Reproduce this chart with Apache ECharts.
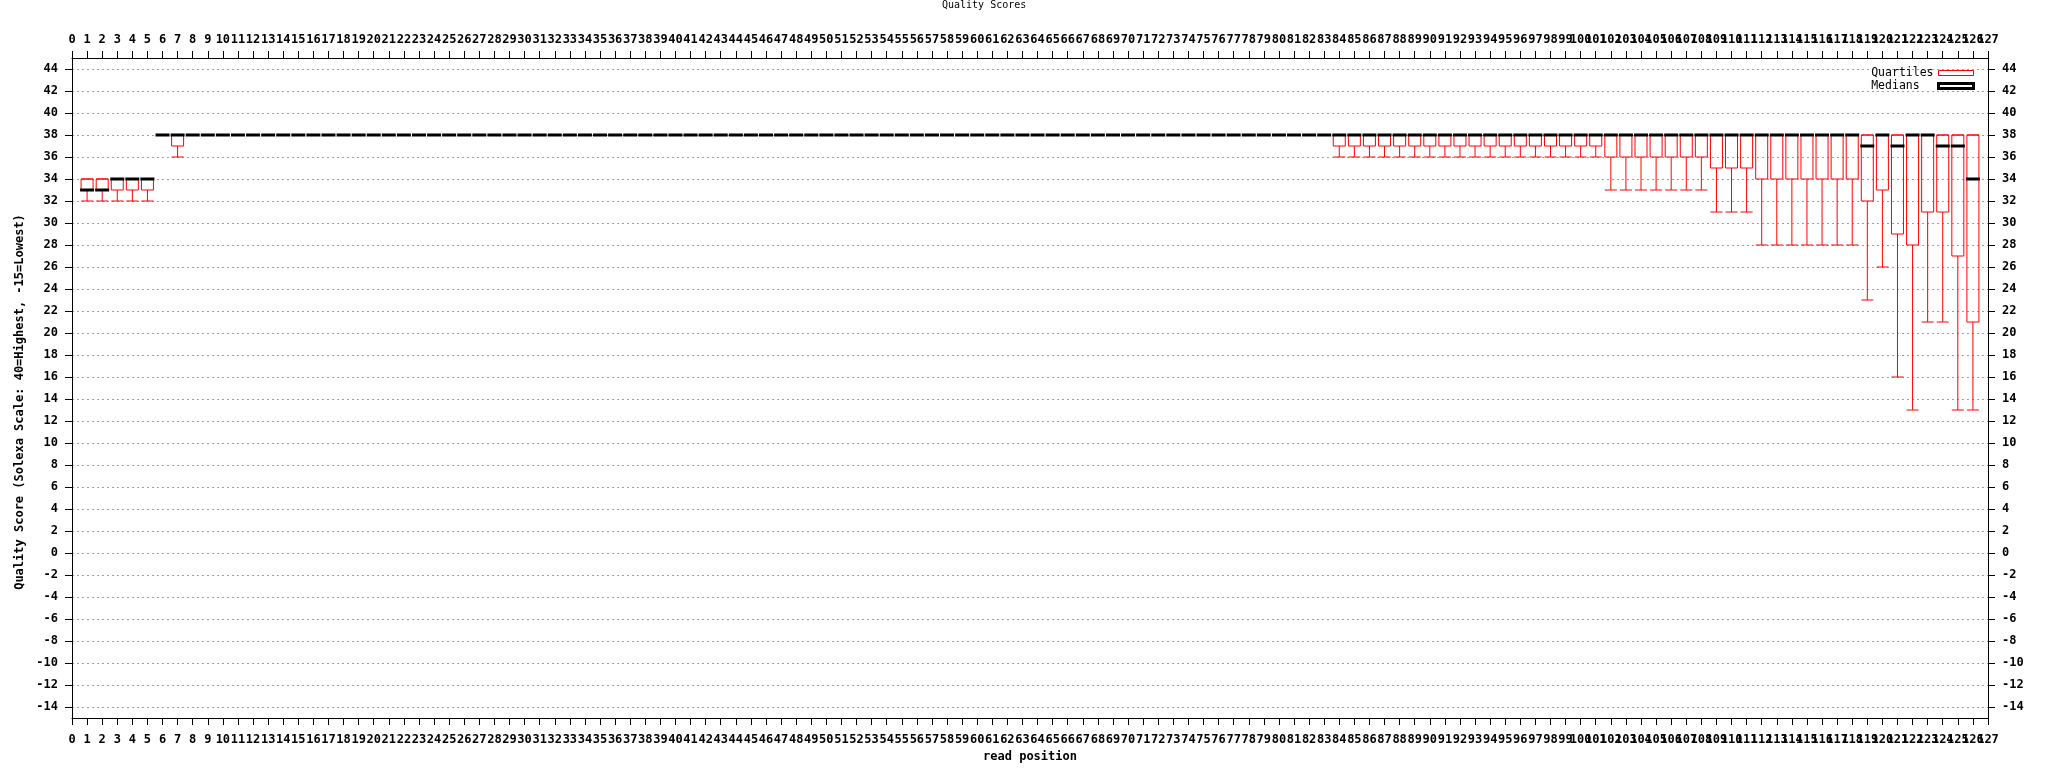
<!DOCTYPE html>
<html>
<head>
<meta charset="utf-8">
<script src="https://cdn.jsdelivr.net/npm/echarts@6/dist/echarts.min.js"></script>
<style>
  html, body { margin: 0; padding: 0; background: #fff; }
  #chart { width: 2048px; height: 768px; }
</style>
</head>
<body>
<div id="chart"></div>
<script>
// ---- data ----
const xTickLabels = [
  '0', '1', '2', '3', '4', '5', '6', '7', '8', '9',
  '10', '11', '12', '13', '14', '15', '16', '17', '18', '19',
  '20', '21', '22', '23', '24', '25', '26', '27', '28', '29',
  '30', '31', '32', '33', '34', '35', '36', '37', '38', '39',
  '40', '41', '42', '43', '44', '45', '46', '47', '48', '49',
  '50', '51', '52', '53', '54', '55', '56', '57', '58', '59',
  '60', '61', '62', '63', '64', '65', '66', '67', '68', '69',
  '70', '71', '72', '73', '74', '75', '76', '77', '78', '79',
  '80', '81', '82', '83', '84', '85', '86', '87', '88', '89',
  '90', '91', '92', '93', '94', '95', '96', '97', '98', '99',
  '100', '101', '102', '103', '104', '105', '106', '107', '108', '109',
  '110', '111', '112', '113', '114', '115', '116', '117', '118', '119',
  '120', '121', '122', '123', '124', '125', '126', '127'
];
const positions = [
  1, 2, 3, 4, 5, 6, 7, 8, 9, 10,
  11, 12, 13, 14, 15, 16, 17, 18, 19, 20,
  21, 22, 23, 24, 25, 26, 27, 28, 29, 30,
  31, 32, 33, 34, 35, 36, 37, 38, 39, 40,
  41, 42, 43, 44, 45, 46, 47, 48, 49, 50,
  51, 52, 53, 54, 55, 56, 57, 58, 59, 60,
  61, 62, 63, 64, 65, 66, 67, 68, 69, 70,
  71, 72, 73, 74, 75, 76, 77, 78, 79, 80,
  81, 82, 83, 84, 85, 86, 87, 88, 89, 90,
  91, 92, 93, 94, 95, 96, 97, 98, 99, 100,
  101, 102, 103, 104, 105, 106, 107, 108, 109, 110,
  111, 112, 113, 114, 115, 116, 117, 118, 119, 120,
  121, 122, 123, 124, 125, 126
];
const lowerWhisker = [
  32, 32, 32, 32, 32, 38, 36, 38, 38, 38,
  38, 38, 38, 38, 38, 38, 38, 38, 38, 38,
  38, 38, 38, 38, 38, 38, 38, 38, 38, 38,
  38, 38, 38, 38, 38, 38, 38, 38, 38, 38,
  38, 38, 38, 38, 38, 38, 38, 38, 38, 38,
  38, 38, 38, 38, 38, 38, 38, 38, 38, 38,
  38, 38, 38, 38, 38, 38, 38, 38, 38, 38,
  38, 38, 38, 38, 38, 38, 38, 38, 38, 38,
  38, 38, 38, 36, 36, 36, 36, 36, 36, 36,
  36, 36, 36, 36, 36, 36, 36, 36, 36, 36,
  36, 33, 33, 33, 33, 33, 33, 33, 31, 31,
  31, 28, 28, 28, 28, 28, 28, 28, 23, 26,
  16, 13, 21, 21, 13, 13
];
const lowerQuartile = [
  33, 33, 33, 33, 33, 38, 37, 38, 38, 38,
  38, 38, 38, 38, 38, 38, 38, 38, 38, 38,
  38, 38, 38, 38, 38, 38, 38, 38, 38, 38,
  38, 38, 38, 38, 38, 38, 38, 38, 38, 38,
  38, 38, 38, 38, 38, 38, 38, 38, 38, 38,
  38, 38, 38, 38, 38, 38, 38, 38, 38, 38,
  38, 38, 38, 38, 38, 38, 38, 38, 38, 38,
  38, 38, 38, 38, 38, 38, 38, 38, 38, 38,
  38, 38, 38, 37, 37, 37, 37, 37, 37, 37,
  37, 37, 37, 37, 37, 37, 37, 37, 37, 37,
  37, 36, 36, 36, 36, 36, 36, 36, 35, 35,
  35, 34, 34, 34, 34, 34, 34, 34, 32, 33,
  29, 28, 31, 31, 27, 21
];
const medians = [
  33, 33, 34, 34, 34, 38, 38, 38, 38, 38,
  38, 38, 38, 38, 38, 38, 38, 38, 38, 38,
  38, 38, 38, 38, 38, 38, 38, 38, 38, 38,
  38, 38, 38, 38, 38, 38, 38, 38, 38, 38,
  38, 38, 38, 38, 38, 38, 38, 38, 38, 38,
  38, 38, 38, 38, 38, 38, 38, 38, 38, 38,
  38, 38, 38, 38, 38, 38, 38, 38, 38, 38,
  38, 38, 38, 38, 38, 38, 38, 38, 38, 38,
  38, 38, 38, 38, 38, 38, 38, 38, 38, 38,
  38, 38, 38, 38, 38, 38, 38, 38, 38, 38,
  38, 38, 38, 38, 38, 38, 38, 38, 38, 38,
  38, 38, 38, 38, 38, 38, 38, 38, 37, 38,
  37, 38, 38, 37, 37, 34
];
const upperQuartile = [
  34, 34, 34, 34, 34, 38, 38, 38, 38, 38,
  38, 38, 38, 38, 38, 38, 38, 38, 38, 38,
  38, 38, 38, 38, 38, 38, 38, 38, 38, 38,
  38, 38, 38, 38, 38, 38, 38, 38, 38, 38,
  38, 38, 38, 38, 38, 38, 38, 38, 38, 38,
  38, 38, 38, 38, 38, 38, 38, 38, 38, 38,
  38, 38, 38, 38, 38, 38, 38, 38, 38, 38,
  38, 38, 38, 38, 38, 38, 38, 38, 38, 38,
  38, 38, 38, 38, 38, 38, 38, 38, 38, 38,
  38, 38, 38, 38, 38, 38, 38, 38, 38, 38,
  38, 38, 38, 38, 38, 38, 38, 38, 38, 38,
  38, 38, 38, 38, 38, 38, 38, 38, 38, 38,
  38, 38, 38, 38, 38, 38
];
const upperWhisker = [
  34, 34, 34, 34, 34, 38, 38, 38, 38, 38,
  38, 38, 38, 38, 38, 38, 38, 38, 38, 38,
  38, 38, 38, 38, 38, 38, 38, 38, 38, 38,
  38, 38, 38, 38, 38, 38, 38, 38, 38, 38,
  38, 38, 38, 38, 38, 38, 38, 38, 38, 38,
  38, 38, 38, 38, 38, 38, 38, 38, 38, 38,
  38, 38, 38, 38, 38, 38, 38, 38, 38, 38,
  38, 38, 38, 38, 38, 38, 38, 38, 38, 38,
  38, 38, 38, 38, 38, 38, 38, 38, 38, 38,
  38, 38, 38, 38, 38, 38, 38, 38, 38, 38,
  38, 38, 38, 38, 38, 38, 38, 38, 38, 38,
  38, 38, 38, 38, 38, 38, 38, 38, 38, 38,
  38, 38, 38, 38, 38, 38
];
const yTickValues = [
  -14, -12, -10, -8, -6, -4, -2, 0, 2, 4, 6, 8, 10, 12, 14, 16, 18, 20,
  22, 24, 26, 28, 30, 32, 34, 36, 38, 40, 42, 44
];
const titleText = 'Quality Scores';
const xName = 'read position';
const yName = 'Quality Score (Solexa Scale: 40=Highest, -15=Lowest)';
const seriesNames = ['Quartiles', 'Medians'];

// ---- chart ----
const MONO = 'DejaVu Sans Mono';
const tickLabel = { fontFamily: MONO, fontWeight: 'bold', fontSize: 12, color: '#000' };
const axisLine = { show: true, onZero: false, lineStyle: { color: '#000', width: 1 } };
const axisTick = { show: true, inside: false, length: 7, lineStyle: { color: '#000', width: 1 } };

function xAxisDef(pos, margin, withName) {
  return {
    type: 'category', position: pos, data: xTickLabels, boundaryGap: false,
    axisLine: axisLine,
    axisTick: Object.assign({ interval: 0 }, axisTick),
    axisLabel: Object.assign({ margin: margin, interval: 0, hideOverlap: false }, tickLabel),
    splitLine: { show: false },
    name: withName ? xName : '',
    nameLocation: 'middle', nameGap: 33,
    nameTextStyle: { fontFamily: MONO, fontWeight: 'bold', fontSize: 12, color: '#000' }
  };
}
function yAxisDef(pos, withGrid, withName) {
  return {
    type: 'value', position: pos, min: -15, max: 45,
    axisLine: axisLine,
    axisTick: Object.assign({ customValues: yTickValues }, axisTick),
    axisLabel: Object.assign({ margin: 14, customValues: yTickValues, showMinLabel: true, showMaxLabel: true }, tickLabel),
    splitLine: withGrid ? { show: true, lineStyle: { color: '#a0a0a0', width: 1, type: [2, 3] } } : { show: false },
    name: withName ? yName : '',
    nameLocation: 'middle', nameGap: 43, nameRotate: 90,
    nameTextStyle: { fontFamily: MONO, fontWeight: 'bold', fontSize: 12, color: '#000', padding: [0, 28, 0, 0] }
  };
}

const boxData = positions.map((p, i) => [p, lowerWhisker[i], lowerQuartile[i], medians[i], upperQuartile[i], upperWhisker[i]]);
const medianData = positions.map((p, i) => [p, medians[i]]);

const chart = echarts.init(document.getElementById('chart'), null, { renderer: 'canvas' });
chart.setOption({
  backgroundColor: '#fff',
  animation: false,
  title: {
    text: titleText, left: 942, top: 0, padding: 0,
    textStyle: { fontFamily: MONO, fontWeight: 'normal', fontSize: 10, color: '#000' }
  },
  legend: {
    orient: 'vertical', right: 73, top: 67, align: 'right', padding: 0,
    itemWidth: 35, itemHeight: 5, itemGap: 1, selectedMode: false,
    formatter: n => n.padEnd(9, '\u00a0'),
    textStyle: { fontFamily: MONO, fontSize: 11.5, color: '#000' },
    data: [
      { name: seriesNames[0], icon: 'rect', itemStyle: { color: '#fff', borderColor: '#ff0000', borderWidth: 1 } },
      { name: seriesNames[1], icon: 'rect', itemStyle: { color: '#fff', borderColor: '#000', borderWidth: 3 } }
    ]
  },
  grid: { left: 72, right: 60, top: 58, bottom: 49, containLabel: false, show: false },
  xAxis: [xAxisDef('bottom', 16, true), xAxisDef('top', 12, false)],
  yAxis: [yAxisDef('left', true, true), yAxisDef('right', false, false)],
  series: [
    {
      name: seriesNames[0], type: 'boxplot', xAxisIndex: 0, yAxisIndex: 0,
      boxWidth: [12, 12],
      encode: { x: 0, y: [1, 2, 3, 4, 5] },
      itemStyle: { color: 'rgba(0,0,0,0)', borderColor: '#ff0000', borderWidth: 1 },
      emphasis: { disabled: true },
      data: boxData, z: 2
    },
    {
      name: seriesNames[1], type: 'custom', xAxisIndex: 0, yAxisIndex: 0,
      itemStyle: { color: '#000' },
      encode: { x: 0, y: 1 },
      data: medianData, z: 3, silent: true,
      renderItem: function (params, api) {
        const c = api.coord([api.value(0), api.value(1)]);
        return {
          type: 'line',
          shape: { x1: c[0] - 7, y1: c[1], x2: c[0] + 7, y2: c[1] },
          style: { stroke: '#000', lineWidth: 3 }
        };
      }
    }
  ]
});
</script>
</body>
</html>
